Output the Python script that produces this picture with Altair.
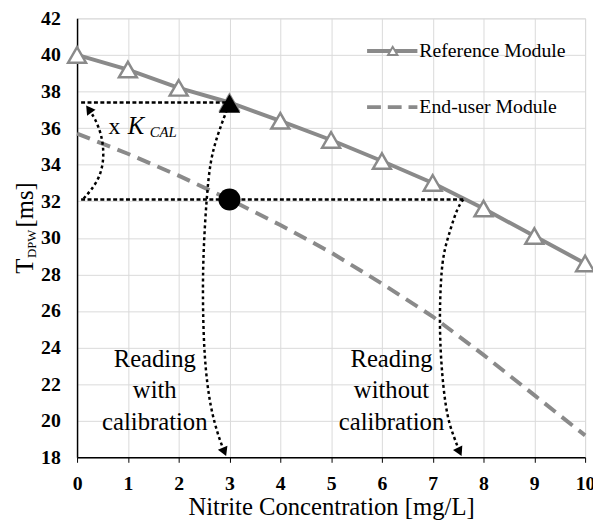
import altair as alt
import pandas as pd

# ---------------- data ----------------
conc = [0, 1, 2, 3, 4, 5, 6, 7, 8, 9, 10]
reference_module = [40.0, 39.2, 38.2, 37.4, 36.4, 35.35, 34.2, 33.0, 31.6, 30.1, 28.6]
enduser_module = [35.7, 34.6, 33.4, 32.1, 30.7, 29.2, 27.5, 25.7, 23.6, 21.4, 19.2]

sample_conc = [3]
sample_ref = [37.35]
sample_end = [32.1]

# dotted guide lines (x start, x end, y)
guide_x1 = [0.08, 0.08]
guide_x2 = [3.0, 7.6]
guide_y = [37.4, 32.1]

# curved annotation arrows (data coordinates)
kcal_x = [0.13, 0.43, 0.54, 0.49, 0.36, 0.23]
kcal_y = [32.15, 33.1, 34.35, 35.6, 36.5, 37.04]
cal_x = [2.95, 2.76, 2.62, 2.55, 2.49, 2.47, 2.5, 2.62, 2.8, 2.9]
cal_y = [37.0, 35.6, 34.2, 32.2, 29.5, 27.0, 23.4, 20.7, 19.0, 18.3]
uncal_x = [7.6, 7.48, 7.36, 7.22, 7.16, 7.13, 7.18, 7.28, 7.42, 7.53]
uncal_y = [32.1, 31.6, 30.55, 29.3, 27.9, 25.2, 22.5, 20.2, 19.1, 18.3]

arrow_x = [0.23, 2.9, 7.53]
arrow_y = [37.04, 18.3, 18.3]
arrow_angle = [325, 157, 154]

GRAY = "#8a8a8a"
SERIF = "Liberation Serif"

xs = alt.Scale(domain=[0, 10], nice=False, zero=False)
ys = alt.Scale(domain=[18, 42], nice=False, zero=False)
xaxis = alt.Axis(values=conc, grid=True, gridColor="#d9d9d9", gridWidth=1,
                 domainColor="black", domainWidth=1.5, ticks=True, tickColor="black",
                 tickSize=5, tickWidth=1, labelFont=SERIF, labelFontSize=20,
                 labelFontWeight="bold", labelColor="black", labelPadding=12,
                 labelFlush=False, title="Nitrite Concentration [mg/L]",
                 titleFont=SERIF, titleFontSize=25, titleFontWeight="normal",
                 titleColor="black", titlePadding=1)
yaxis = alt.Axis(values=list(range(18, 43, 2)), grid=True, gridColor="#d9d9d9",
                 gridWidth=1, domainColor="black", domainWidth=1.5, ticks=False,
                 labelFont=SERIF, labelFontSize=20, labelFontWeight="bold",
                 labelColor="black", labelPadding=17, labelFlush=False, title=None)

X = alt.X("x:Q", scale=xs, axis=xaxis)
Y = alt.Y("y:Q", scale=ys, axis=yaxis)

ref_df = pd.DataFrame({"x": conc, "y": reference_module})
end_df = pd.DataFrame({"x": conc, "y": enduser_module})

end_line = alt.Chart(end_df).mark_line(color=GRAY, strokeWidth=4, strokeDash=[14, 8]).encode(x=X, y=Y)
ref_line = alt.Chart(ref_df).mark_line(color=GRAY, strokeWidth=4).encode(x=X, y=Y)
ref_pts = alt.Chart(ref_df).mark_point(shape="triangle-up", size=330, filled=True,
                                      fill="white", stroke=GRAY, strokeWidth=2.5,
                                      opacity=1).encode(x=X, y=Y)

guide_df = pd.DataFrame({"x": guide_x1, "x2": guide_x2, "y": guide_y})
guides = alt.Chart(guide_df).mark_rule(color="black", strokeWidth=2.5,
                                       strokeDash=[4, 2.5]).encode(x=X, x2="x2:Q", y=Y)

tri_df = pd.DataFrame({"x": sample_conc, "y": sample_ref})
circ_df = pd.DataFrame({"x": sample_conc, "y": sample_end})
black_tri = alt.Chart(tri_df).mark_point(shape="triangle-up", size=470, filled=True,
                                        color="black", opacity=1).encode(x=X, y=Y)
black_circ = alt.Chart(circ_df).mark_point(shape="circle", size=500, filled=True,
                                          color="black", opacity=1).encode(x=X, y=Y)

def curve(xv, yv):
    df = pd.DataFrame({"x": xv, "y": yv, "i": list(range(len(xv)))})
    return alt.Chart(df).mark_line(color="black", strokeWidth=2.5, strokeDash=[3, 3],
                                   interpolate="basis").encode(x=X, y=Y, order="i:Q")

curves = [curve(kcal_x, kcal_y), curve(cal_x, cal_y), curve(uncal_x, uncal_y)]

arrow_df = pd.DataFrame({"x": arrow_x, "y": arrow_y, "a": arrow_angle})
arrows = alt.Chart(arrow_df).mark_point(shape="triangle-up", size=110, filled=True,
                                       color="black", opacity=1).encode(
    x=X, y=Y, angle=alt.Angle("a:Q", scale=None))

# annotation text
note_df = pd.DataFrame({"x": [1.53, 6.19], "y": [22.96, 22.96],
                        "t": ["Reading\nwith\ncalibration", "Reading\nwithout\ncalibration"]})
notes = alt.Chart(note_df).mark_text(font=SERIF, fontSize=25, align="center",
                                     baseline="alphabetic", lineBreak="\n",
                                     lineHeight=32, color="black").encode(x=X, y=Y, text="t:N")

kx_df = pd.DataFrame({"x": [0.62], "y": [35.69]})
k_df = pd.DataFrame({"x": [1.0], "y": [35.69]})
cal_df = pd.DataFrame({"x": [1.43], "y": [35.53]})
k1 = alt.Chart(kx_df).mark_text(font=SERIF, fontSize=24, align="left", baseline="alphabetic",
                                color="black", text="x").encode(x=X, y=Y)
k2 = alt.Chart(k_df).mark_text(font=SERIF, fontSize=25, fontStyle="italic", align="left",
                               baseline="alphabetic", color="black", text="K").encode(x=X, y=Y)
k3 = alt.Chart(cal_df).mark_text(font=SERIF, fontSize=15, fontStyle="italic", align="left",
                                 baseline="alphabetic", color="black", text="CAL").encode(x=X, y=Y)

# y-axis title with subscript
one = pd.DataFrame({"a": [0]})
yt1 = alt.Chart(one).mark_text(font=SERIF, fontSize=25, angle=270, align="left",
                               baseline="alphabetic", color="black", text="T").encode(
    x=alt.value(-45), y=alt.value(259))
yt2 = alt.Chart(one).mark_text(font=SERIF, fontSize=13, angle=270, align="left",
                               baseline="alphabetic", color="black", text="DPW").encode(
    x=alt.value(-42), y=alt.value(243))
yt3 = alt.Chart(one).mark_text(font=SERIF, fontSize=25, angle=270, align="left",
                               baseline="alphabetic", color="black", text="[ms]").encode(
    x=alt.value(-45), y=alt.value(212))

# legend
lg_line1 = alt.Chart(one).mark_rule(color=GRAY, strokeWidth=4).encode(
    x=alt.value(294), x2=alt.value(345), y=alt.value(33))
lg_tri = alt.Chart(one).mark_point(shape="triangle-up", size=90, filled=True, fill="white",
                                   stroke=GRAY, strokeWidth=2, opacity=1).encode(
    x=alt.value(320), y=alt.value(33))
lg_text1 = alt.Chart(one).mark_text(font=SERIF, fontSize=20, align="left", baseline="alphabetic",
                                    color="black", text="Reference Module").encode(
    x=alt.value(347), y=alt.value(39))
lg_line2 = alt.Chart(one).mark_rule(color=GRAY, strokeWidth=4, strokeDash=[14, 7]).encode(
    x=alt.value(294), x2=alt.value(345), y=alt.value(90))
lg_text2 = alt.Chart(one).mark_text(font=SERIF, fontSize=20, align="left", baseline="alphabetic",
                                    color="black", text="End-user Module").encode(
    x=alt.value(347), y=alt.value(96))

chart = alt.layer(
    end_line, ref_line, ref_pts, guides, *curves, black_tri, black_circ, arrows,
    notes, k1, k2, k3, yt1, yt2, yt3, lg_line1, lg_tri, lg_text1, lg_line2, lg_text2
).properties(
    width=515, height=445, autosize="none",
    padding={"left": 70, "top": 7, "right": 8, "bottom": 60}
).configure_view(stroke="#d9d9d9", strokeWidth=1).configure(background="white")

chart.save("out.html", embed_options={"renderer": "svg", "actions": False})
